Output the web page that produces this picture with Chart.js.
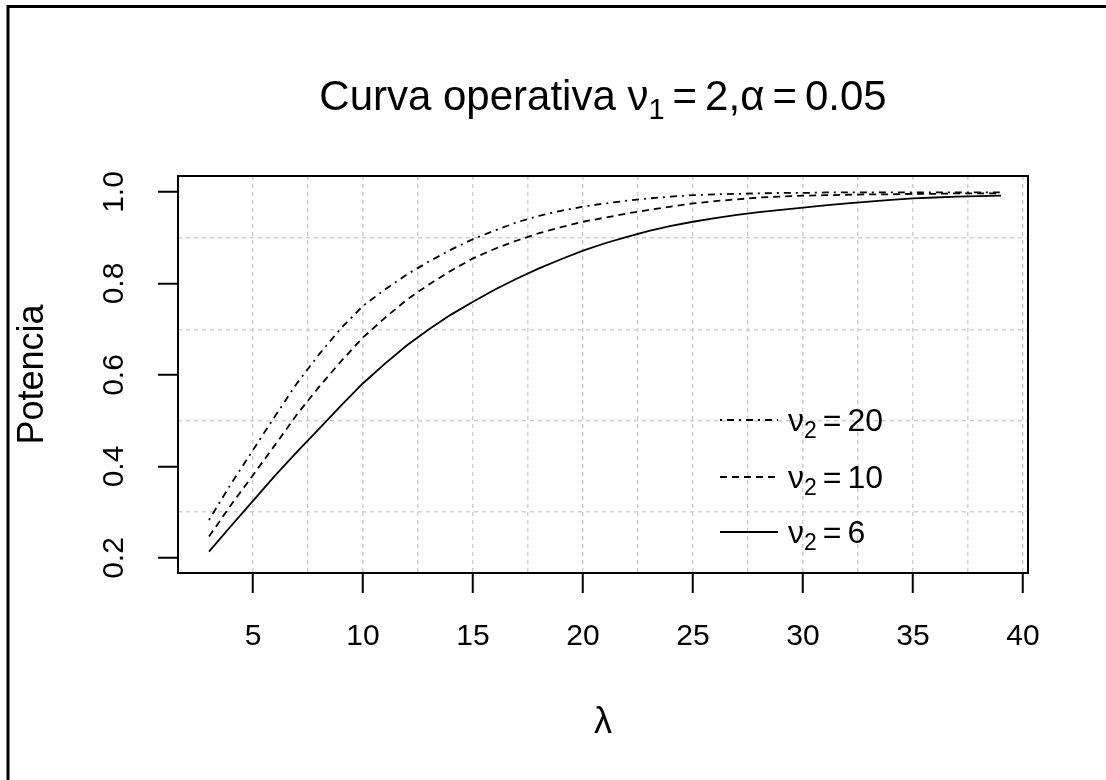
<!DOCTYPE html>
<html>
<head>
<meta charset="utf-8">
<script src="https://cdn.jsdelivr.net/npm/chart.js@4.4.0/dist/chart.umd.min.js"></script>
<style>
html,body{margin:0;padding:0;background:#fff;}
#wrap{width:1106px;height:780px;position:relative;}
</style>
</head>
<body>
<div id="wrap"><canvas id="c" width="1106" height="780"></canvas></div>
<script>
// ---- data ----
const lambda = [3,4,5,6,7,8,9,10,11,12,13,14,15,16,17,18,19,20,21,22,23,24,25,26,27,28,29,30,31,32,33,34,35,36,37,38,39];
const power6 = [0.214,0.270,0.325,0.380,0.432,0.482,0.533,0.582,0.625,0.665,0.700,0.732,0.760,0.787,0.811,0.833,0.853,0.872,0.888,0.902,0.915,0.926,0.935,0.943,0.950,0.956,0.961,0.966,0.971,0.975,0.979,0.983,0.986,0.988,0.990,0.991,0.992];
const power10 = [0.247,0.316,0.381,0.447,0.514,0.574,0.630,0.682,0.725,0.765,0.798,0.828,0.855,0.876,0.894,0.910,0.923,0.935,0.944,0.953,0.961,0.968,0.975,0.980,0.984,0.988,0.990,0.992,0.993,0.994,0.995,0.995,0.996,0.996,0.997,0.997,0.997];
const power20 = [0.283,0.362,0.436,0.510,0.582,0.645,0.702,0.751,0.787,0.820,0.848,0.874,0.897,0.916,0.934,0.948,0.959,0.968,0.975,0.981,0.986,0.990,0.993,0.995,0.996,0.997,0.998,0.998,0.999,0.999,0.999,0.999,0.999,0.999,0.999,0.999,0.999];
const nu2Labels = ['6', '10', '20'];
const xTickValues = [5,7.5,10,12.5,15,17.5,20,22.5,25,27.5,30,32.5,35,37.5,40];
const xLabelValues = [5,10,15,20,25,30,35,40];
const yTickValues = [0.2,0.3,0.4,0.5,0.6,0.7,0.8,0.9,1.0];
const yLabelValues = [0.2,0.4,0.6,0.8,1.0];
const titleMain = 'Curva operativa ';
const nu1Value = '2';
const alphaValue = '0.05';
const xAxisTitle = 'λ';
const yAxisTitle = 'Potencia';

// ---- styling ----
const FONT = "'Liberation Sans', Arial, Helvetica, sans-serif";
const GRID = '#cfcfcf';
const isIn = (v, arr) => arr.some(a => Math.abs(a - v) < 1e-6);
const toXY = arr => arr.map((v, i) => ({x: lambda[i], y: v}));

const styles = [
  {borderDash: []},
  {borderDash: [7, 5]},
  {borderDash: [2, 5, 7, 5]}
];
const seriesValues = [power6, power10, power20];

const datasets = seriesValues.map((vals, i) => ({
  label: 'ν₂ = ' + nu2Labels[i],
  data: toXY(vals),
  borderColor: '#000',
  borderWidth: 1.8,
  borderDash: styles[i].borderDash,
  pointRadius: 0,
  tension: 0,
  fill: false
}));

function drawRich(ctx, parts, x, baseline, measureOnly) {
  let cx = x;
  for (const p of parts) {
    if (p.gap) { cx += p.gap; continue; }
    ctx.font = p.size + 'px ' + FONT;
    if (!measureOnly) ctx.fillText(p.t, cx, baseline + (p.dy || 0));
    cx += ctx.measureText(p.t).width;
  }
  return cx - x;
}

const decorPlugin = {
  id: 'decor',
  afterDraw(chart) {
    const ctx = chart.ctx;
    const a = chart.chartArea;
    ctx.save();
    // plot frame
    ctx.strokeStyle = '#000';
    ctx.lineWidth = 2;
    ctx.setLineDash([]);
    ctx.strokeRect(a.left, a.top, a.right - a.left, a.bottom - a.top);
    // outer image frame (left & top edges visible)
    ctx.lineWidth = 3;
    ctx.beginPath();
    ctx.moveTo(8, 800); ctx.lineTo(8, 6.5); ctx.lineTo(1200, 6.5);
    ctx.stroke();

    // title
    ctx.fillStyle = '#000';
    ctx.textBaseline = 'alphabetic';
    ctx.textAlign = 'left';
    const titleParts = [
      {t: titleMain, size: 42},
      {t: 'ν', size: 42},
      {t: '1', size: 29, dy: 9},
      {gap: 8}, {t: '=', size: 42}, {gap: 8},
      {t: nu1Value + ',', size: 42},
      {t: 'α', size: 42},
      {gap: 8}, {t: '=', size: 42}, {gap: 8},
      {t: alphaValue, size: 42}
    ];
    const tw = drawRich(ctx, titleParts, 0, 0, true);
    const cxm = (a.left + a.right) / 2;
    drawRich(ctx, titleParts, cxm - tw / 2, 110, false);

    // legend
    const rows = [2, 1, 0];
    const rowY = [420, 477, 532];
    rows.forEach((di, r) => {
      const ds = chart.data.datasets[di];
      ctx.strokeStyle = ds.borderColor;
      ctx.lineWidth = ds.borderWidth;
      ctx.setLineDash(ds.borderDash);
      ctx.beginPath();
      ctx.moveTo(720, rowY[r]);
      ctx.lineTo(778, rowY[r]);
      ctx.stroke();
      ctx.setLineDash([]);
      const parts = [
        {t: 'ν', size: 32},
        {t: '2', size: 23, dy: 7},
        {gap: 6}, {t: '=', size: 32}, {gap: 6},
        {t: nu2Labels[di], size: 32}
      ];
      drawRich(ctx, parts, 788, rowY[r] + 11, false);
    });
    ctx.restore();
  }
};

new Chart(document.getElementById('c'), {
  type: 'line',
  data: {datasets},
  plugins: [decorPlugin],
  options: {
    responsive: false,
    animation: false,
    events: [],
    layout: {padding: {left: 0, top: 176, right: 78, bottom: 0}},
    plugins: {legend: {display: false}, title: {display: false}, tooltip: {enabled: false}},
    scales: {
      x: {
        type: 'linear',
        position: 'bottom',
        min: 1.591,
        max: 40.227,
        afterBuildTicks: s => { s.ticks = xTickValues.map(v => ({value: v})); },
        afterFit: s => { s.height = 207; },
        ticks: {
          autoSkip: false, maxRotation: 0, minRotation: 0, padding: 26,
          color: '#000', font: {family: FONT, size: 30},
          callback: v => isIn(v, xLabelValues) ? String(v) : ''
        },
        grid: {
          color: GRID, lineWidth: 1.5, drawTicks: true, tickLength: 20, tickWidth: 2,
          tickColor: c => (c.tick && isIn(c.tick.value, xLabelValues)) ? '#000' : 'rgba(0,0,0,0)'
        },
        border: {display: false, dash: [4, 4]},
        title: {display: true, text: xAxisTitle, color: '#000', font: {family: FONT, size: 36}, padding: {top: 0, bottom: 35}}
      },
      y: {
        type: 'linear',
        position: 'left',
        min: 0.1672,
        max: 1.035,
        afterBuildTicks: s => { s.ticks = yTickValues.map(v => ({value: v})); },
        afterFit: s => { s.width = 178; },
        ticks: {
          autoSkip: false, minRotation: 90, maxRotation: 90, crossAlign: 'center', padding: 22,
          color: '#000', font: {family: FONT, size: 30},
          callback: v => isIn(v, yLabelValues) ? v.toFixed(1) : ''
        },
        grid: {
          color: c => (c.tick && isIn(c.tick.value, yLabelValues)) ? 'rgba(0,0,0,0)' : GRID,
          lineWidth: 1.5, drawTicks: true, tickLength: 20, tickWidth: 2,
          tickColor: c => (c.tick && isIn(c.tick.value, yLabelValues)) ? '#000' : 'rgba(0,0,0,0)'
        },
        border: {display: false, dash: [4, 4]},
        title: {display: true, text: yAxisTitle, color: '#000', font: {family: FONT, size: 36}, padding: {top: 11, bottom: 0}}
      }
    }
  }
});
</script>
</body>
</html>
